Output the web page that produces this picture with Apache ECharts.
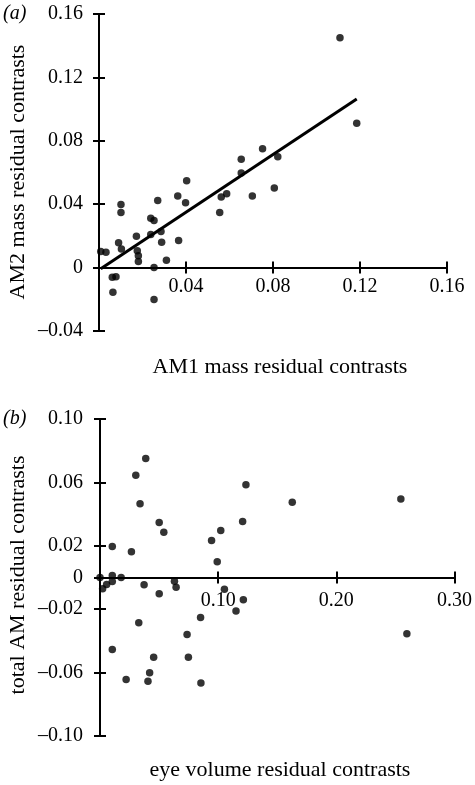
<!DOCTYPE html>
<html>
<head>
<meta charset="utf-8">
<script src="https://cdn.jsdelivr.net/npm/echarts@6/dist/echarts.min.js"></script>
<style>
html,body{margin:0;padding:0;background:#fff;}
#chart{width:475px;height:785px;}
</style>
</head>
<body>
<div id="chart"></div>
<script>
// Panel (a): AM1 vs AM2 mass residual contrasts
var aX = [0.0008,0.0032,0.0061,0.0078,0.0064,0.0090,0.0103,0.0101,0.0101,0.0172,0.0176,0.0181,0.0181,0.0238,0.0253,0.0238,0.0253,0.0253,0.0270,0.0285,0.0288,0.0310,0.0362,0.0366,0.0398,0.0403,0.0555,0.0562,0.0587,0.0654,0.0654,0.0705,0.0752,0.0806,0.0822,0.1108,0.1185];
var aY = [0.0101,0.0097,-0.0061,-0.0057,-0.0156,0.0156,0.0118,0.0398,0.0348,0.0198,0.0107,0.0074,0.0038,0.0312,0.0297,0.0209,0.0000,-0.0202,0.0424,0.0228,0.0160,0.0046,0.0451,0.0171,0.0409,0.0548,0.0348,0.0445,0.0466,0.0683,0.0597,0.0451,0.0750,0.0502,0.0700,0.1450,0.0911];
var fitX = [0.0008, 0.1185];
var fitY = [-0.0008, 0.1063];
var aXTicks = [0.04, 0.08, 0.12, 0.16];
var aYTicks = [-0.04, 0, 0.04, 0.08, 0.12, 0.16];

// Panel (b): eye volume vs total AM residual contrasts
var bX = [0.0104,0.0303,0.0387,0.0339,0.0501,0.0540,0.0266,0.0944,0.1022,0.0992,0.1207,0.1235,0.0000,0.0104,0.0179,0.0022,0.0056,0.0104,0.0373,0.0501,0.0630,0.0644,0.1053,0.1151,0.1213,0.0851,0.0328,0.0737,0.0104,0.0454,0.0748,0.0420,0.0221,0.0406,0.0854,0.1627,0.2546,0.2597];
var bY = [0.0196,0.0645,0.0751,0.0465,0.0347,0.0286,0.0162,0.0233,0.0297,0.0099,0.0353,0.0585,0.0000,0.0013,0.0000,-0.0071,-0.0044,-0.0025,-0.0046,-0.0103,-0.0023,-0.0061,-0.0074,-0.0211,-0.0141,-0.0252,-0.0286,-0.0360,-0.0454,-0.0503,-0.0503,-0.0601,-0.0643,-0.0654,-0.0665,0.0475,0.0496,-0.0355];
var bXTicks = [0.10, 0.20, 0.30];
var bYTicks = [-0.10, -0.06, -0.02, 0, 0.02, 0.06, 0.10];

var FONT = 'Liberation Serif, Times New Roman, serif';
function zip(xs, ys){ var r=[]; for(var i=0;i<xs.length;i++) r.push([xs[i], ys[i]]); return r; }
function fmt(v){ if (Math.abs(v) < 1e-9) return '0'; return (v < 0 ? '\u2013' : '') + Math.abs(v).toFixed(2); }

function axisBase(inside, showLabel, ticks, margin){
  return {
    axisLine: { show: true, onZero: false, lineStyle: { color: '#000', width: 2 } },
    axisTick: { show: true, inside: inside, length: 6, customValues: ticks, lineStyle: { color: '#000', width: 2 } },
    axisLabel: { show: showLabel, customValues: ticks, formatter: fmt, color: '#000', fontFamily: FONT, fontSize: 20, margin: margin },
    splitLine: { show: false }
  };
}
function mk(extra, base){ return Object.assign({ type: 'value' }, base, extra); }

// grid heights (pixels) and where zero lies, used to lift the x axes to y = 0
var GA_H = 317, GB_H = 317;
var aZeroOffset = -GA_H * (0 - (-0.04)) / (0.16 - (-0.04));
var bZeroOffset = -GB_H * (0 - (-0.10)) / (0.10 - (-0.10));

var chart = echarts.init(document.getElementById('chart'), null, { renderer: 'canvas' });
var option = {
  animation: false,
  backgroundColor: '#fff',
  grid: [
    { left: 99, right: 28, top: 14, height: GA_H },
    { left: 100, right: 18, top: 419, height: GB_H }
  ],
  xAxis: [
    mk({ gridIndex: 0, min: 0, max: 0.16, interval: 0.04, position: 'bottom', offset: aZeroOffset }, axisBase(false, true, aXTicks, 9)),
    mk({ gridIndex: 0, min: 0, max: 0.16, interval: 0.04, position: 'bottom', offset: aZeroOffset }, axisBase(true, false, aXTicks, 9)),
    mk({ gridIndex: 1, min: 0, max: 0.30, interval: 0.10, position: 'bottom', offset: bZeroOffset }, axisBase(false, true, bXTicks, 13)),
    mk({ gridIndex: 1, min: 0, max: 0.30, interval: 0.10, position: 'bottom', offset: bZeroOffset }, axisBase(true, false, bXTicks, 13))
  ],
  yAxis: [
    mk({ gridIndex: 0, min: -0.04, max: 0.16, interval: 0.04, position: 'left' }, axisBase(false, true, aYTicks, 16)),
    mk({ gridIndex: 0, min: -0.04, max: 0.16, interval: 0.04, position: 'left' }, axisBase(true, false, aYTicks, 16)),
    mk({ gridIndex: 1, min: -0.10, max: 0.10, interval: 0.02, position: 'left' }, axisBase(false, true, bYTicks, 17)),
    mk({ gridIndex: 1, min: -0.10, max: 0.10, interval: 0.02, position: 'left' }, axisBase(true, false, bYTicks, 17))
  ],
  series: [
    { type: 'scatter', xAxisIndex: 0, yAxisIndex: 0, data: zip(aX, aY), symbolSize: 7.5, itemStyle: { color: '#000' } },
    { type: 'line', xAxisIndex: 0, yAxisIndex: 0, data: zip(fitX, fitY), symbol: 'none', lineStyle: { color: '#000', width: 3 } },
    { type: 'scatter', xAxisIndex: 2, yAxisIndex: 2, data: zip(bX, bY), symbolSize: 7.5, itemStyle: { color: '#000' } }
  ],
  graphic: [
    { type: 'text', left: 3, top: 4, style: { text: '(a)', font: 'italic 20px ' + FONT, fill: '#000' } },
    { type: 'text', left: 3, top: 409, style: { text: '(b)', font: 'italic 20px ' + FONT, fill: '#000' } },
    { type: 'text', x: 280, y: 367, style: { text: 'AM1 mass residual contrasts', font: '22px ' + FONT, fill: '#000', align: 'center', verticalAlign: 'middle' } },
    { type: 'text', x: 280, y: 770, style: { text: 'eye volume residual contrasts', font: '22px ' + FONT, fill: '#000', align: 'center', verticalAlign: 'middle' } },
    { type: 'text', x: 18, y: 172, rotation: Math.PI / 2, style: { text: 'AM2 mass residual contrasts', font: '22px ' + FONT, fill: '#000', align: 'center', verticalAlign: 'middle' } },
    { type: 'text', x: 18, y: 575, rotation: Math.PI / 2, style: { text: 'total AM residual contrasts', font: '22px ' + FONT, fill: '#000', align: 'center', verticalAlign: 'middle' } }
  ]
};
chart.setOption(option);
</script>
</body>
</html>
